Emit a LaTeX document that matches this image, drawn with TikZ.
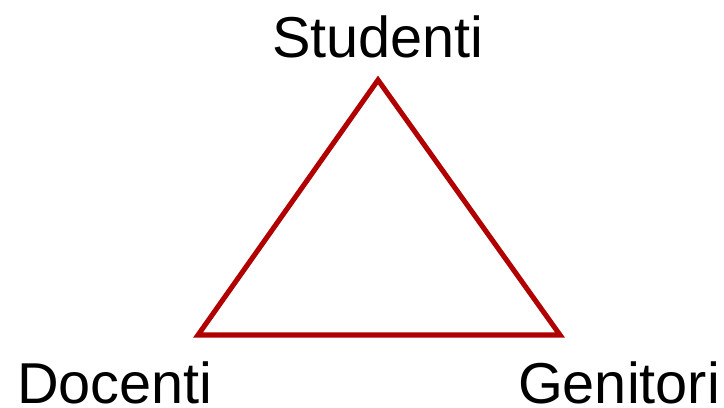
\documentclass[tikz,border=0pt]{standalone}
\usepackage{fontspec}
\setmainfont{Liberation Sans}
\definecolor{trired}{HTML}{B00000}

\begin{document}
\begin{tikzpicture}[x=0.025cm,y=-0.025cm,
  corner/.style={font=\fontsize{41}{45}\selectfont,inner sep=0pt,anchor=base},
  side/.style={draw=trired,line width=3.6pt,line join=miter}]
\useasboundingbox (0,0) rectangle (724,408);
\coordinate (top) at (378,80);
\coordinate (left) at (198,335);
\coordinate (right) at (560,335);
\node[corner] (studenti) at (378,57) {Studenti};
\node[corner] (docenti) at (115,403) {Docenti};
\node[corner] (genitori) at (619,403) {Genitori};
\draw[side] (top) -- (right) -- (left) -- cycle;
\end{tikzpicture}
\end{document}
